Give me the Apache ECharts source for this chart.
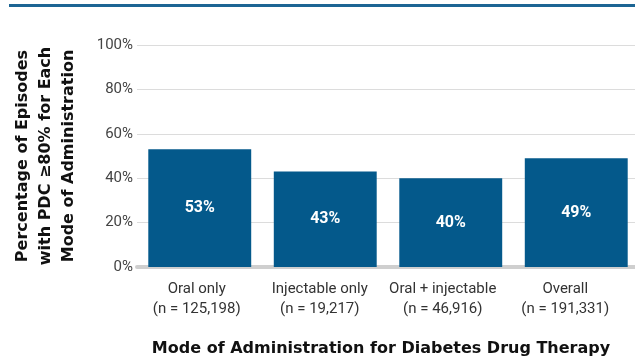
<!DOCTYPE html>
<html>
<head>
<meta charset="utf-8">
<script src="https://cdn.jsdelivr.net/npm/echarts@6/dist/echarts.min.js"></script>
<style>
  html, body { margin: 0; padding: 0; background: #fff; }
  #chart { width: 635px; height: 359px; }
</style>
</head>
<body>
<div id="chart"></div>
<script>
const categories = ["Oral only\n(n = 125,198)", "Injectable only\n(n = 19,217)", "Oral + injectable\n(n = 46,916)", "Overall\n(n = 191,331)"];
const pdcShare = [53, 43, 40, 49];
const yTicks = [0, 20, 40, 60, 80, 100];

const chart = echarts.init(document.getElementById("chart"));

// labels in the original sit a little left of the bar centres
const labelShift = [6, 11, 16, 22];
const labelRich = {};
labelShift.forEach((s, i) => {
  labelRich["c" + i] = { fontSize: 15, color: "#333", lineHeight: 20, padding: [0, s, 0, 0] };
});

const option = {
  animation: false,
  textStyle: { fontFamily: "Roboto, 'DejaVu Sans', sans-serif" },
  graphic: [
    {
      type: "rect",
      shape: { x: 9, y: 4, width: 626, height: 3 },
      style: { fill: "#1c6594" },
    },
  ],
  grid: {
    left: 137,
    right: -4,
    top: 45,
    bottom: 92,
    outerBoundsMode: "none",
    containLabel: false,
  },
  xAxis: {
    type: "category",
    data: categories,
    name: "Mode of Administration for Diabetes Drug Therapy",
    nameLocation: "middle",
    nameGap: 74,
    nameTextStyle: { fontSize: 16, fontWeight: "bold", color: "#111", fontFamily: "'DejaVu Sans', sans-serif", padding: [0, 14, 0, 0] },
    axisLine: { lineStyle: { color: "#cfcfcf", width: 4 } },
    axisTick: { show: false },
    axisLabel: {
      interval: 0,
      margin: 12,
      formatter: (value, index) =>
        value.split("\n").map((line) => "{c" + index + "|" + line + "}").join("\n"),
      rich: labelRich,
    },
  },
  yAxis: {
    type: "value",
    min: yTicks[0],
    max: yTicks[yTicks.length - 1],
    interval: 20,
    name: "Percentage of Episodes\nwith PDC \u226580% for Each\nMode of Administration",
    nameLocation: "middle",
    nameRotate: 90,
    nameGap: 57,
    nameTextStyle: { fontSize: 16, fontWeight: "bold", color: "#111", lineHeight: 23, fontFamily: "'DejaVu Sans', sans-serif" },
    axisLabel: { formatter: "{value}%", fontSize: 15, color: "#444", margin: 4 },
    splitLine: { lineStyle: { color: "#dcdcdc", width: 1 } },
    axisLine: { show: false },
    axisTick: { show: false },
  },
  series: [
    {
      type: "bar",
      data: pdcShare,
      barWidth: "82%",
      itemStyle: { color: "#04598b" },
      label: {
        show: true,
        position: "inside",
        formatter: "{c}%",
        color: "#fff",
        fontSize: 16,
        fontWeight: "bold",
      },
    },
  ],
};

chart.setOption(option);
</script>
</body>
</html>
